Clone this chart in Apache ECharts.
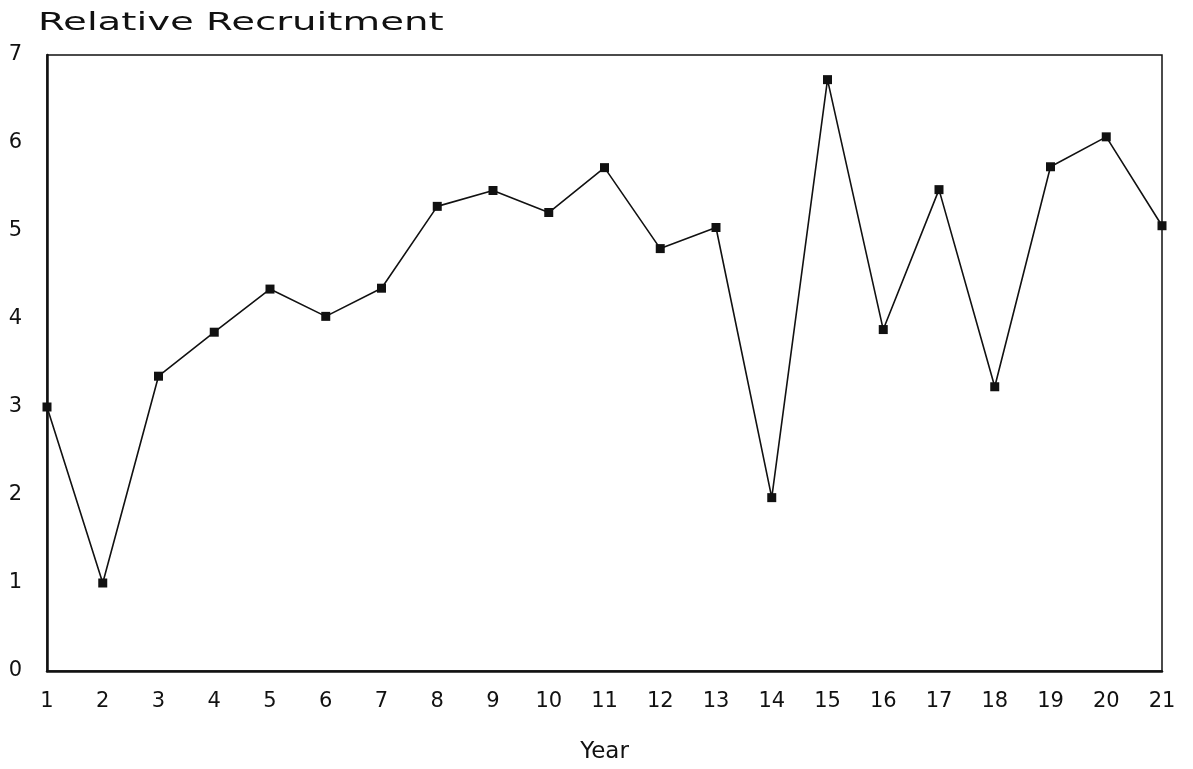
<!DOCTYPE html>
<html>
<head>
<meta charset="utf-8">
<script src="https://cdn.jsdelivr.net/npm/echarts@6/dist/echarts.min.js"></script>
<style>
  html, body { margin: 0; padding: 0; background: #fff; }
  #chart { width: 1193px; height: 769px; }
</style>
</head>
<body>
<div id="chart"></div>
<script>
// Year index along the horizontal axis
const years = ['1','2','3','4','5','6','7','8','9','10','11','12','13','14','15','16','17','18','19','20','21'];
// Relative recruitment per year
const recruitment = [3.0, 1.0, 3.35, 3.85, 4.34, 4.03, 4.35, 5.28, 5.46, 5.21, 5.72, 4.80, 5.04, 1.97, 6.72, 3.88, 5.47, 3.23, 5.73, 6.07, 5.06];
// Vertical axis range
const yMin = 0, yMax = 7, yStep = 1;

const chart = echarts.init(document.getElementById('chart'), null, { renderer: 'canvas' });
const font = 'DejaVu Sans';

chart.setOption({
  animation: false,
  backgroundColor: '#ffffff',
  graphic: [{
    type: 'text',
    left: 38,
    top: 12,
    scaleX: 1.61,
    style: {
      text: 'Relative Recruitment',
      font: '24px "DejaVu Sans"',
      fill: '#111'
    }
  }],
  grid: {
    left: 47, right: 31, top: 55, bottom: 97,
    show: true, borderColor: '#111', borderWidth: 1.5, backgroundColor: 'transparent'
  },
  xAxis: {
    type: 'category',
    data: years,
    boundaryGap: false,
    name: 'Year',
    nameLocation: 'middle',
    nameGap: 70,
    nameTextStyle: { fontFamily: font, fontSize: 23, color: '#111' },
    axisLine: { lineStyle: { color: '#111', width: 2.5 } },
    axisTick: { show: false },
    axisLabel: { fontFamily: font, fontSize: 21, color: '#111', margin: 20, interval: 0 },
    splitLine: { show: false }
  },
  yAxis: {
    type: 'value',
    min: yMin, max: yMax, interval: yStep,
    axisLine: { show: true, lineStyle: { color: '#111', width: 2.5 } },
    axisTick: { show: false },
    axisLabel: { fontFamily: font, fontSize: 21, color: '#111', margin: 25 },
    splitLine: { show: false }
  },
  series: [{
    type: 'line',
    data: recruitment,
    symbol: 'rect',
    symbolSize: 9,
    showAllSymbol: true,
    lineStyle: { color: '#111', width: 1.6 },
    itemStyle: { color: '#111' }
  }]
});
</script>
</body>
</html>
